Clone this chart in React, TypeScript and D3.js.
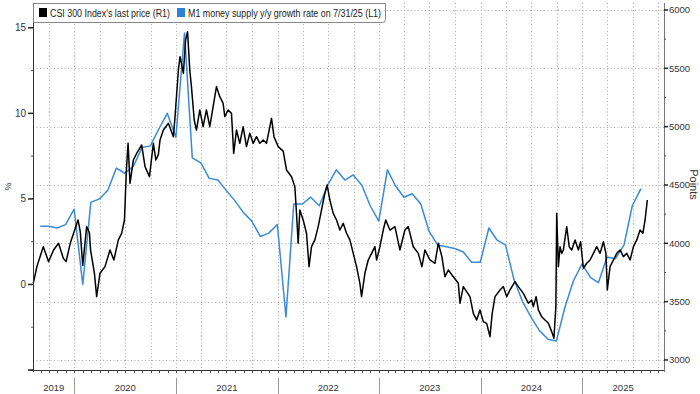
import * as React from 'react';
import * as d3 from 'd3';

// CSI 300 index level (R1)
const csiPrice: [string, number][] = [
  ['2019-08-06', 3657], ['2019-08-19', 3800], ['2019-09-11', 3971], ['2019-09-30', 3843],
  ['2019-10-18', 3943], ['2019-11-05', 4000], ['2019-11-22', 3872], ['2019-12-02', 3843],
  ['2019-12-17', 4000], ['2020-01-14', 4200], ['2020-01-22', 4100], ['2020-01-31', 3810],
  ['2020-02-14', 4143], ['2020-02-24', 4090], ['2020-02-28', 3943], ['2020-03-13', 3743],
  ['2020-03-21', 3543], ['2020-04-02', 3743], ['2020-04-20', 3800], ['2020-05-08', 3943],
  ['2020-05-22', 3857], ['2020-06-07', 4029], ['2020-06-19', 4086], ['2020-06-29', 4200],
  ['2020-07-06', 4629], ['2020-07-12', 4857], ['2020-07-19', 4514], ['2020-07-31', 4714],
  ['2020-08-12', 4771], ['2020-08-30', 4843], ['2020-09-11', 4657], ['2020-09-27', 4571],
  ['2020-10-11', 4857], ['2020-10-20', 4714], ['2020-10-29', 4760], ['2020-11-04', 4886],
  ['2020-11-16', 4971], ['2020-12-04', 5029], ['2020-12-22', 4914], ['2020-12-28', 5086],
  ['2021-01-09', 5486], ['2021-01-15', 5600], ['2021-01-27', 5457], ['2021-02-04', 5743],
  ['2021-02-11', 5814], ['2021-02-19', 5486], ['2021-02-25', 5343], ['2021-03-07', 5057],
  ['2021-03-15', 4971], ['2021-03-27', 5143], ['2021-04-08', 5000], ['2021-04-20', 5143],
  ['2021-05-02', 5000], ['2021-05-14', 5171], ['2021-05-26', 5343], ['2021-06-07', 5257],
  ['2021-06-19', 5200], ['2021-06-25', 5086], ['2021-07-07', 5143], ['2021-07-19', 5114],
  ['2021-07-27', 4771], ['2021-08-06', 4971], ['2021-08-18', 4857], ['2021-08-30', 5000],
  ['2021-09-11', 4829], ['2021-09-23', 4943], ['2021-10-05', 4857], ['2021-10-17', 4914],
  ['2021-10-29', 4857], ['2021-11-10', 4886], ['2021-11-22', 4857], ['2021-12-10', 5071],
  ['2021-12-19', 4914], ['2022-01-03', 4829], ['2022-01-21', 4790], ['2022-02-02', 4629],
  ['2022-02-20', 4571], ['2022-03-04', 4486], ['2022-03-10', 4257], ['2022-03-16', 4000],
  ['2022-03-22', 4286], ['2022-04-03', 4200], ['2022-04-15', 4086], ['2022-04-24', 3800],
  ['2022-05-03', 3971], ['2022-05-15', 4029], ['2022-05-27', 4143], ['2022-06-08', 4286],
  ['2022-06-20', 4429], ['2022-06-28', 4500], ['2022-07-08', 4371], ['2022-07-20', 4257],
  ['2022-08-01', 4200], ['2022-08-13', 4114], ['2022-08-25', 4171], ['2022-09-06', 4086],
  ['2022-09-18', 4029], ['2022-09-30', 3914], ['2022-10-12', 3800], ['2022-10-24', 3657],
  ['2022-10-30', 3543], ['2022-11-11', 3743], ['2022-11-23', 3857], ['2022-12-05', 3914],
  ['2022-12-17', 3971], ['2022-12-23', 3857], ['2023-01-04', 3971], ['2023-01-16', 4114],
  ['2023-01-25', 4200], ['2023-02-09', 4114], ['2023-02-27', 4143], ['2023-03-17', 3943],
  ['2023-04-04', 4114], ['2023-04-16', 4143], ['2023-05-04', 3971], ['2023-05-22', 3914],
  ['2023-06-04', 3800], ['2023-06-15', 3943], ['2023-07-03', 3857], ['2023-07-21', 3829],
  ['2023-08-02', 4000], ['2023-08-15', 3886], ['2023-08-26', 3714], ['2023-09-07', 3771],
  ['2023-09-25', 3714], ['2023-10-13', 3657], ['2023-10-19', 3486], ['2023-10-31', 3629],
  ['2023-11-12', 3586], ['2023-11-24', 3543], ['2023-12-06', 3400], ['2023-12-18', 3343],
  ['2023-12-30', 3429], ['2024-01-11', 3329], ['2024-01-23', 3314], ['2024-02-04', 3200],
  ['2024-02-12', 3400], ['2024-02-22', 3543], ['2024-03-11', 3600], ['2024-03-23', 3629],
  ['2024-04-04', 3543], ['2024-04-16', 3600], ['2024-05-04', 3671], ['2024-05-16', 3629],
  ['2024-06-03', 3571], ['2024-06-21', 3486], ['2024-07-03', 3514], ['2024-07-09', 3457],
  ['2024-07-19', 3543], ['2024-07-27', 3429], ['2024-08-08', 3371], ['2024-08-20', 3343],
  ['2024-09-01', 3314], ['2024-09-13', 3243], ['2024-09-21', 3186], ['2024-09-28', 3457],
  ['2024-10-01', 4257], ['2024-10-07', 3800], ['2024-10-13', 3971], ['2024-10-19', 3914],
  ['2024-10-25', 3943], ['2024-11-06', 4143], ['2024-11-15', 3971], ['2024-11-24', 3943],
  ['2024-12-06', 4029], ['2024-12-18', 3943], ['2024-12-26', 4014], ['2025-01-05', 3786],
  ['2025-01-17', 3829], ['2025-01-29', 3857], ['2025-02-10', 3914], ['2025-02-22', 3971],
  ['2025-03-06', 3914], ['2025-03-18', 4014], ['2025-03-27', 3914], ['2025-04-01', 3600],
  ['2025-04-11', 3800], ['2025-04-23', 3857], ['2025-05-05', 3914], ['2025-05-17', 3943],
  ['2025-05-29', 3886], ['2025-06-10', 3914], ['2025-06-22', 3857], ['2025-07-04', 3971],
  ['2025-07-16', 4029], ['2025-07-28', 4114], ['2025-08-07', 4086], ['2025-08-15', 4200],
  ['2025-08-23', 4371],
];

// M1 y/y growth (L1), monthly from Aug 2019, plotted at month end
const m1Start = '2019-08-01';
const m1Growth = [
  3.4, 3.4, 3.3, 3.5, 4.4,
  0.0, 4.8, 5.0, 5.5, 6.8, 6.5, 6.9, 8.0, 8.1, 9.1, 10.0, 8.6,
  14.7, 7.4, 7.1, 6.2, 6.1, 5.5, 4.9, 4.2, 3.7, 2.8, 3.0, 3.5,
  -1.9, 4.7, 4.7, 5.1, 4.6, 5.8, 6.7, 6.1, 6.4, 5.8, 4.6, 3.7,
  6.7, 5.8, 5.1, 5.3, 4.7, 3.1, 2.3, 2.2, 2.1, 1.9, 1.3, 1.3,
  3.3, 2.6, 2.3, 0.3, -1.0, -1.9, -2.7, -3.2, -3.3, -1.3, 0.2, 1.2,
  0.4, 0.1, 1.6, 1.5, 2.3, 4.6, 5.6,
];

const leftTicks = [15, 10, 5, 0, -5];
const leftMinor = [12.5, 7.5, 2.5, -2.5];
const rightTicks = [6000, 5500, 5000, 4500, 4000, 3500, 3000];
const rightMinor = [5750, 5250, 4750, 4250, 3750, 3250];
const legendLabels = ["CSI 300 Index's last price (R1)", 'M1 money supply y/y growth rate on 7/31/25 (L1)'];

const FONT = "'Liberation Sans', Arial, sans-serif";
const BLUE = '#3b8bd4';

export default function App() {
  const left = 33, right = 664, top = 3, bottom = 370;
  const parse = d3.utcParse('%Y-%m-%d');
  const d0 = parse('2019-08-05')!, d1 = parse('2025-10-22')!;

  const x = d3.scaleUtc().domain([d0, d1]).range([left, right]);
  const yL = d3.scaleLinear().domain([-5, 16.45]).range([bottom, top]);
  const yR = d3.scaleLinear().domain([2914, 6060]).range([bottom, top]);

  const csi = csiPrice.map(([d, v]) => ({ date: parse(d)!, v }));
  const m1 = m1Growth.map((v, i) => ({
    date: d3.utcDay.offset(d3.utcMonth.offset(parse(m1Start)!, i + 1), -1),
    v,
  }));

  const csiLine = d3.line<{ date: Date; v: number }>().x(d => x(d.date)).y(d => yR(d.v));
  const m1Line = d3.line<{ date: Date; v: number }>().x(d => x(d.date)).y(d => yL(d.v));

  const quarters = d3.utcMonth.every(3)!.range(d0, d1);
  const months = d3.utcMonth.range(d0, d1);
  const yearStarts = d3.utcYear.range(d0, d1);
  const years = d3.utcYear.range(d3.utcYear.floor(d0), d1).map(y => {
    const a = Math.max(x(y), left);
    const b = Math.min(x(d3.utcYear.offset(y, 1)), right);
    return { label: String(y.getUTCFullYear()), cx: (a + b) / 2 };
  });

  return (
    <div style={{ position: 'fixed', left: 0, top: 0 }}>
      <svg width={700} height={394} style={{ display: 'block', background: '#fff' }}>
        {/* grid */}
        <g stroke='#aaa' strokeWidth={1} strokeDasharray='1,2.5'>
          {rightTicks.map(t => (
            <line key={t} x1={left} x2={right} y1={Math.round(yR(t)) + 0.5} y2={Math.round(yR(t)) + 0.5} />
          ))}
          {quarters.map(q => (
            <line key={+q} x1={Math.round(x(q)) + 0.5} x2={Math.round(x(q)) + 0.5} y1={top} y2={bottom} />
          ))}
        </g>

        {/* series */}
        <path d={m1Line(m1)!} fill='none' stroke={BLUE} strokeWidth={1.5} strokeLinejoin='round' />
        <path d={csiLine(csi)!} fill='none' stroke='#000' strokeWidth={1.5} strokeLinejoin='round' />

        {/* left axis */}
        <line x1={left + 0.5} x2={left + 0.5} y1={top} y2={bottom + 2} stroke='#333' />
        {leftTicks.map(t => (
          <g key={t}>
            <line x1={left - 5} x2={left} y1={yL(t)} y2={yL(t)} stroke='#222' strokeWidth={1.5} />
            {t > -5 && (
              <text x={left - 7} y={yL(t) + 3.5} textAnchor='end' fontSize={10} fontFamily={FONT} fill='#333'>
                {t}
              </text>
            )}
          </g>
        ))}
        {leftMinor.map(t => (
          <line key={t} x1={left - 2} x2={left} y1={yL(t)} y2={yL(t)} stroke='#555' />
        ))}
        <text transform={`translate(11,${(top + bottom) / 2}) rotate(-90)`} textAnchor='middle' fontSize={9} fontFamily={FONT} fill='#333'>
          %
        </text>

        {/* right axis */}
        <line x1={right + 0.5} x2={right + 0.5} y1={top} y2={bottom + 2} stroke='#777' />
        {rightTicks.map(t => (
          <g key={t}>
            <line x1={right} x2={right + 4} y1={yR(t)} y2={yR(t)} stroke='#222' strokeWidth={1.5} />
            <text x={right + 5} y={yR(t) + 3.5} fontSize={9.5} fontFamily={FONT} fill='#333'>
              {t}
            </text>
          </g>
        ))}
        {rightMinor.map(t => (
          <line key={t} x1={right} x2={right + 2} y1={yR(t)} y2={yR(t)} stroke='#555' />
        ))}
        <text transform={`translate(690,${(top + bottom) / 2 - 2}) rotate(90)`} textAnchor='middle' fontSize={11} fontFamily={FONT} fill='#333'>
          Points
        </text>

        {/* bottom axis */}
        <line x1={left - 3} x2={right} y1={bottom + 0.5} y2={bottom + 0.5} stroke='#333' />
        {months.map(m => (
          <line key={+m} x1={Math.round(x(m)) + 0.5} x2={Math.round(x(m)) + 0.5} y1={bottom} y2={bottom + 3} stroke='#444' />
        ))}
        {yearStarts.map(y => (
          <line key={+y} x1={Math.round(x(y)) + 0.5} x2={Math.round(x(y)) + 0.5} y1={bottom + 8} y2={394} stroke='#999' />
        ))}
        {years.map(y => (
          <text key={y.label} x={y.cx} y={391} textAnchor='middle' fontSize={9.5} fontFamily={FONT} fill='#333'>
            {y.label}
          </text>
        ))}

        {/* legend */}
        <path d={`M${left + 0.5},${top + 0.5} H385.5 V19.5 Q385.5,22.5 382.5,22.5 H${left + 0.5} Z`} fill='#fff' stroke='#888' />
        <rect x={39} y={8} width={8} height={9} fill='#000' />
        <text x={50} y={16.5} fontSize={10} fontFamily={FONT} fill='#222' textLength={120} lengthAdjust='spacingAndGlyphs'>
          {legendLabels[0]}
        </text>
        <rect x={177} y={8} width={8} height={9} fill='#2f7fdc' />
        <text x={188} y={16.5} fontSize={10} fontFamily={FONT} fill='#222' textLength={193} lengthAdjust='spacingAndGlyphs'>
          {legendLabels[1]}
        </text>
      </svg>
    </div>
  );
}
